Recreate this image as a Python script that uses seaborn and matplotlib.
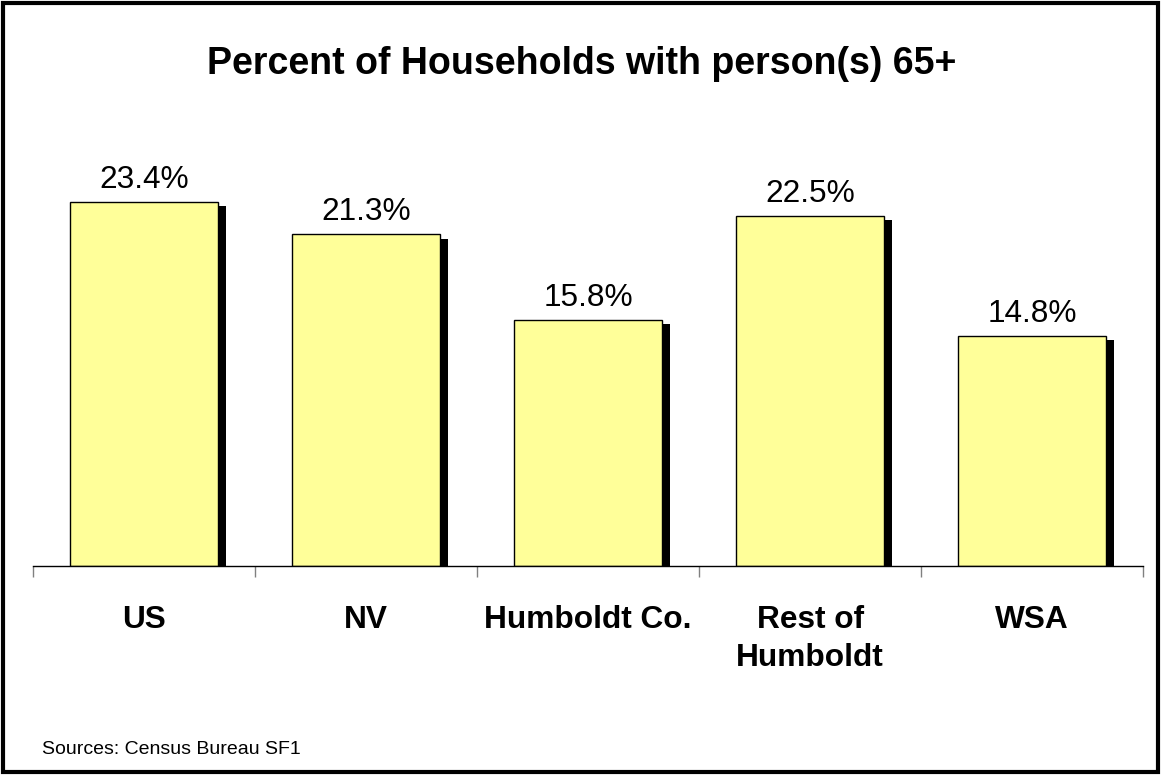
import numpy as np
import pandas as pd
import matplotlib
matplotlib.use("Agg")
import matplotlib.pyplot as plt
import matplotlib.patheffects as pe
from matplotlib.patches import Rectangle
import seaborn as sns

# data
categories = ["US", "NV", "Humboldt Co.", "Rest of\nHumboldt", "WSA"]
percent_65 = [23.4, 21.3, 15.8, 22.5, 14.8]

sns.set_style("white")
plt.rcParams["font.family"] = ["Liberation Sans", "DejaVu Sans"]
plt.rcParams["text.color"] = "black"
plt.rcParams["xtick.color"] = "black"

df = pd.DataFrame({"area": categories, "pct": percent_65})

fig = plt.figure(figsize=(11.63, 7.75), dpi=100)
ax = fig.add_axes([0.0284, 0.2697, 0.9546, 0.5623])

sns.barplot(data=df, x="area", y="pct", ax=ax, color="#FFFF99",
            saturation=1, width=0.667, edgecolor="black", linewidth=1)

# drop shadow on each bar, like the original
for bar in ax.patches:
    bar.set_path_effects([pe.SimplePatchShadow(offset=(5.5, -3), shadow_rgbFace="black", alpha=1),
                          pe.Normal()])

for i, v in enumerate(percent_65):
    ax.text(i, v + 0.45, f"{v:.1f}%", ha="center", va="bottom", fontsize=22.8)

ax.set_xlim(-0.5, len(categories) - 0.5)
ax.set_ylim(0, 28)
ax.set_xlabel("")
ax.set_ylabel("")
ax.set_yticks([])
for s in ["left", "right", "top"]:
    ax.spines[s].set_visible(False)
ax.spines["bottom"].set_color("black")
ax.spines["bottom"].set_linewidth(1)
ax.spines["bottom"].set_zorder(5)

ax.set_xticks(range(len(categories)))
ax.set_xticklabels(categories, fontsize=22.8, fontweight="bold", color="black", linespacing=1.35)
ax.tick_params(axis="x", which="major", length=0, pad=28)
ax.set_xticks(np.arange(-0.5, len(categories), 1), minor=True)
ax.tick_params(axis="x", which="minor", bottom=True, length=8, width=1, color="#808080", direction="out")

fig.text(0.5, 0.918, "Percent of Households with person(s) 65+", ha="center", va="center",
         fontsize=27, fontweight="bold")
fig.text(0.036, 0.033, "Sources: Census Bureau SF1", ha="left", va="center", fontsize=14)

fig.patches.append(Rectangle((0.003, 0.004), 0.993, 0.992, transform=fig.transFigure,
                             fill=False, edgecolor="black", linewidth=3))

fig.savefig("out.png", dpi=100)
